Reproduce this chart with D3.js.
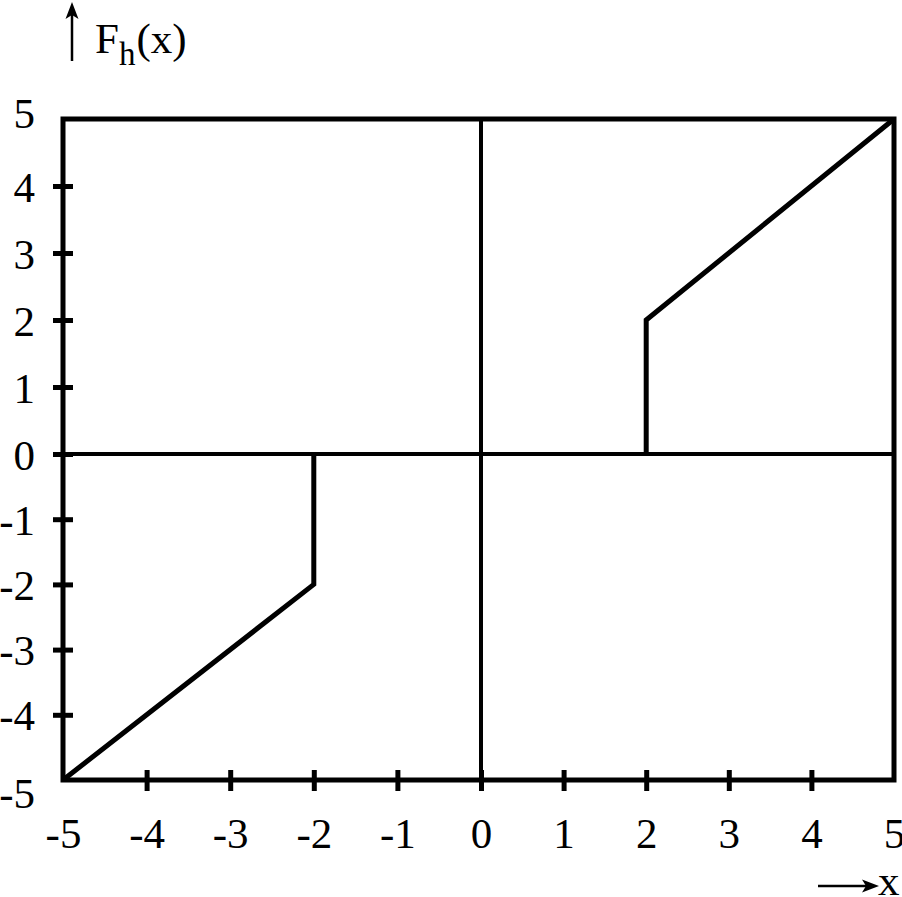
<!DOCTYPE html>
<html><head><meta charset="utf-8">
<script src="https://cdn.jsdelivr.net/npm/d3@7"></script>
<style>html,body{margin:0;padding:0;background:#fff;}svg{display:block;}</style>
</head><body>
<svg id="c" width="902" height="897"></svg>
<script>
const xTicks = [-5,-4,-3,-2,-1,0,1,2,3,4,5];
const yTicks = [-5,-4,-3,-2,-1,0,1,2,3,4,5];
const lowerX = [-5,-2,-2];
const lowerY = [-5,-2,0];
const upperX = [2,2,5];
const upperY = [0,2,5];
const yTitle = "F";
const yTitleSub = "h";
const yTitleRest = "(x)";
const xTitle = "x";

const svg = d3.select("#c");
const FONT = "'Liberation Serif','Times New Roman',serif";
const x = d3.scaleLinear().domain([-5,0,5]).range([63,481,894]);
const y = d3.scaleLinear().domain([-5,0,5]).range([780,454,119]);

// center lines
svg.append("line").attr("x1",x(-5)).attr("x2",x(5)).attr("y1",y(0)).attr("y2",y(0))
  .attr("stroke","#000").attr("stroke-width",4);
svg.append("line").attr("x1",x(0)).attr("x2",x(0)).attr("y1",y(5)).attr("y2",y(-5))
  .attr("stroke","#000").attr("stroke-width",4);

// curve
const line = d3.line().x(d=>x(d[0])).y(d=>y(d[1])).curve(d3.curveLinear);
[[lowerX,lowerY],[upperX,upperY]].forEach(([xs,ys])=>{
  svg.append("path").attr("d", line(xs.map((v,i)=>[v,ys[i]])))
    .attr("fill","none").attr("stroke","#000").attr("stroke-width",5).attr("stroke-linejoin","miter");
});

// axes
const xAxis = svg.append("g").attr("transform",`translate(0,${y(-5)})`)
  .call(d3.axisBottom(x).tickValues(xTicks).tickSize(10).tickFormat(d=>d));
xAxis.select(".domain").remove();
xAxis.selectAll(".tick line").attr("y1",-10).attr("y2",11).attr("stroke","#000").attr("stroke-width",5)
  .filter(d=>d===-5||d===5).remove();
xAxis.selectAll(".tick text").attr("y",68).attr("dy",0).attr("font-family",FONT).attr("font-size",43).attr("fill","#000");

const yAxis = svg.append("g").attr("transform",`translate(${x(-5)},0)`)
  .call(d3.axisLeft(y).tickValues(yTicks).tickSize(10).tickFormat(d=>d));
yAxis.select(".domain").remove();
yAxis.selectAll(".tick line").attr("x1",-10).attr("x2",10).attr("stroke","#000").attr("stroke-width",5)
  .filter(d=>d===-5||d===5).remove();
yAxis.selectAll(".tick text").attr("x",-28).attr("dy", d=> d===5 ? "0.19em" : d===-5 ? "0.65em" : "0.35em")
  .attr("font-family",FONT).attr("font-size",43).attr("fill","#000");

// frame
svg.append("rect").attr("x",x(-5)).attr("y",y(5)).attr("width",x(5)-x(-5)).attr("height",y(-5)-y(5))
  .attr("fill","none").attr("stroke","#000").attr("stroke-width",5);

// y title with arrow
svg.append("line").attr("x1",72).attr("x2",72).attr("y1",61).attr("y2",12)
  .attr("stroke","#000").attr("stroke-width",2.5);
svg.append("path").attr("d","M72,2 L78.5,19 L72,15 L65.5,19 Z").attr("fill","#000");
const t = svg.append("text").attr("x",95).attr("y",53).attr("font-family",FONT).attr("font-size",43).attr("fill","#000");
t.append("tspan").text(yTitle);
t.append("tspan").attr("font-size",33).attr("dy",12).text(yTitleSub);
t.append("tspan").attr("dy",-12).attr("dx",1).text(yTitleRest);

// x title with arrow
svg.append("line").attr("x1",818).attr("x2",870).attr("y1",886).attr("y2",886)
  .attr("stroke","#000").attr("stroke-width",2.5);
svg.append("path").attr("d","M879,886 L862,879.5 L866,886 L862,892.5 Z").attr("fill","#000");
svg.append("text").attr("x",878).attr("y",895).attr("font-family",FONT).attr("font-size",43).attr("fill","#000").text(xTitle);
</script>
</body></html>
